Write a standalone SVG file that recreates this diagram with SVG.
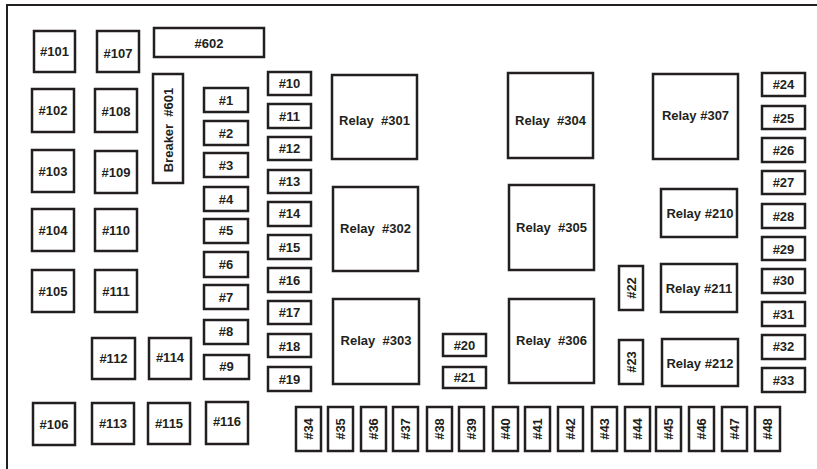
<svg xmlns="http://www.w3.org/2000/svg" width="817" height="469" viewBox="0 0 817 469">
<style>
.b{fill:#fff;stroke:#231f20;stroke-width:2.5}
.t{font-family:"Liberation Sans",Arial,sans-serif;font-weight:bold;font-size:13px;text-anchor:middle;fill:#231f20;white-space:pre}
.frame{fill:none;stroke:#231f20;stroke-width:2}
</style>
<rect x="0" y="0" width="817" height="469" fill="#fff"/>
<path class="frame" d="M7,469 V5 H817"/>
<g id="connectors"></g>
<g id="f101"><rect class="b" x="34" y="31" width="41" height="41"/><text class="t" x="54.5" y="56">#101</text></g>
<g id="f102"><rect class="b" x="32" y="89" width="42" height="43"/><text class="t" x="53" y="115">#102</text></g>
<g id="f103"><rect class="b" x="32" y="150" width="42" height="42"/><text class="t" x="53" y="175.5">#103</text></g>
<g id="f104"><rect class="b" x="32" y="209" width="42" height="42"/><text class="t" x="53" y="234.5">#104</text></g>
<g id="f105"><rect class="b" x="32" y="270" width="42" height="42"/><text class="t" x="53" y="295.5">#105</text></g>
<g id="f106"><rect class="b" x="33" y="403" width="42" height="42"/><text class="t" x="54" y="428.5">#106</text></g>
<g id="f107"><rect class="b" x="97" y="31" width="42" height="41"/><text class="t" x="118" y="57.5">#107</text></g>
<g id="f108"><rect class="b" x="95" y="89" width="42" height="43"/><text class="t" x="116" y="116">#108</text></g>
<g id="f109"><rect class="b" x="95" y="151" width="42" height="42"/><text class="t" x="116" y="177">#109</text></g>
<g id="f110"><rect class="b" x="95" y="209" width="42" height="42"/><text class="t" x="116" y="235">#110</text></g>
<g id="f111"><rect class="b" x="95" y="270" width="42" height="42"/><text class="t" x="116" y="296">#111</text></g>
<g id="f112"><rect class="b" x="92" y="338" width="43" height="41"/><text class="t" x="113.5" y="363">#112</text></g>
<g id="f113"><rect class="b" x="92" y="403" width="42" height="41"/><text class="t" x="113" y="428">#113</text></g>
<g id="f114"><rect class="b" x="149" y="338" width="42" height="41"/><text class="t" x="170" y="362">#114</text></g>
<g id="f115"><rect class="b" x="148" y="403" width="42" height="41"/><text class="t" x="169" y="428">#115</text></g>
<g id="f116"><rect class="b" x="206" y="402" width="42" height="42"/><text class="t" x="227" y="426">#116</text></g>
<g id="f602"><rect class="b" x="154" y="28" width="110" height="29"/><text class="t" x="209" y="47.5">#602</text></g>
<g id="f601"><rect class="b" x="153" y="74" width="30" height="109"/><text class="t" transform="translate(172.5,130) rotate(-90)" x="0" y="0">Breaker  #601</text></g>
<g id="f1"><rect class="b" x="204" y="88" width="44" height="24"/><text class="t" x="226" y="104.5">#1</text></g>
<g id="f2"><rect class="b" x="204" y="121" width="44" height="24"/><text class="t" x="226" y="137.5">#2</text></g>
<g id="f3"><rect class="b" x="204" y="153" width="44" height="24"/><text class="t" x="226" y="169.5">#3</text></g>
<g id="f4"><rect class="b" x="204" y="187" width="44" height="24"/><text class="t" x="226" y="203.5">#4</text></g>
<g id="f5"><rect class="b" x="204" y="219" width="44" height="24"/><text class="t" x="226" y="235">#5</text></g>
<g id="f6"><rect class="b" x="204" y="252" width="44" height="25"/><text class="t" x="226" y="268.5">#6</text></g>
<g id="f7"><rect class="b" x="204" y="285" width="44" height="24"/><text class="t" x="226" y="301.5">#7</text></g>
<g id="f8"><rect class="b" x="204" y="320" width="44" height="24"/><text class="t" x="226" y="335.5">#8</text></g>
<g id="f9"><rect class="b" x="204" y="355" width="45" height="24"/><text class="t" x="226.5" y="371">#9</text></g>
<g id="f10"><rect class="b" x="268" y="72" width="43" height="23"/><text class="t" x="289.5" y="88">#10</text></g>
<g id="f11"><rect class="b" x="268" y="104" width="43" height="24"/><text class="t" x="289.5" y="120.5">#11</text></g>
<g id="f12"><rect class="b" x="268" y="137" width="43" height="23"/><text class="t" x="289.5" y="153">#12</text></g>
<g id="f13"><rect class="b" x="268" y="170" width="43" height="23"/><text class="t" x="289.5" y="186">#13</text></g>
<g id="f14"><rect class="b" x="268" y="202" width="43" height="24"/><text class="t" x="289.5" y="218">#14</text></g>
<g id="f15"><rect class="b" x="268" y="235" width="43" height="24"/><text class="t" x="289.5" y="251.5">#15</text></g>
<g id="f16"><rect class="b" x="268" y="268" width="43" height="24"/><text class="t" x="289.5" y="284.5">#16</text></g>
<g id="f17"><rect class="b" x="268" y="301" width="43" height="23"/><text class="t" x="289.5" y="317">#17</text></g>
<g id="f18"><rect class="b" x="268" y="334" width="43" height="23"/><text class="t" x="289.5" y="350.5">#18</text></g>
<g id="f19"><rect class="b" x="268" y="367" width="43" height="24"/><text class="t" x="289.5" y="384">#19</text></g>
<g id="f20"><rect class="b" x="443" y="334" width="43" height="22"/><text class="t" x="464.5" y="349.5">#20</text></g>
<g id="f21"><rect class="b" x="443" y="367" width="43" height="21"/><text class="t" x="464.5" y="382">#21</text></g>
<g id="f22"><rect class="b" x="619" y="266" width="24" height="44"/><text class="t" transform="translate(635.5,288) rotate(-90)" x="0" y="0">#22</text></g>
<g id="f23"><rect class="b" x="619" y="340" width="24" height="44"/><text class="t" transform="translate(635.5,362) rotate(-90)" x="0" y="0">#23</text></g>
<g id="f24"><rect class="b" x="762" y="73" width="43" height="23"/><text class="t" x="783.5" y="89">#24</text></g>
<g id="f25"><rect class="b" x="762" y="106" width="43" height="23"/><text class="t" x="783.5" y="123">#25</text></g>
<g id="f26"><rect class="b" x="762" y="138" width="43" height="24"/><text class="t" x="783.5" y="155">#26</text></g>
<g id="f27"><rect class="b" x="762" y="171" width="43" height="23"/><text class="t" x="783.5" y="187">#27</text></g>
<g id="f28"><rect class="b" x="762" y="204" width="43" height="24"/><text class="t" x="783.5" y="220.5">#28</text></g>
<g id="f29"><rect class="b" x="762" y="237" width="43" height="23"/><text class="t" x="783.5" y="253.5">#29</text></g>
<g id="f30"><rect class="b" x="762" y="269" width="43" height="24"/><text class="t" x="783.5" y="285">#30</text></g>
<g id="f31"><rect class="b" x="762" y="302" width="43" height="24"/><text class="t" x="783.5" y="318.5">#31</text></g>
<g id="f32"><rect class="b" x="762" y="335" width="43" height="24"/><text class="t" x="783.5" y="351">#32</text></g>
<g id="f33"><rect class="b" x="762" y="368" width="43" height="24"/><text class="t" x="783.5" y="385">#33</text></g>
<g id="f34"><rect class="b" x="296" y="407" width="25" height="44"/><text class="t" transform="translate(313,429) rotate(-90)" x="0" y="0">#34</text></g>
<g id="f35"><rect class="b" x="328" y="407" width="25" height="44"/><text class="t" transform="translate(345,429) rotate(-90)" x="0" y="0">#35</text></g>
<g id="f36"><rect class="b" x="361" y="407" width="25" height="44"/><text class="t" transform="translate(378,429) rotate(-90)" x="0" y="0">#36</text></g>
<g id="f37"><rect class="b" x="393" y="407" width="25" height="44"/><text class="t" transform="translate(410,429) rotate(-90)" x="0" y="0">#37</text></g>
<g id="f38"><rect class="b" x="427" y="407" width="25" height="44"/><text class="t" transform="translate(444,429) rotate(-90)" x="0" y="0">#38</text></g>
<g id="f39"><rect class="b" x="459" y="407" width="25" height="44"/><text class="t" transform="translate(476,429) rotate(-90)" x="0" y="0">#39</text></g>
<g id="f40"><rect class="b" x="493" y="407" width="25" height="44"/><text class="t" transform="translate(510,429) rotate(-90)" x="0" y="0">#40</text></g>
<g id="f41"><rect class="b" x="525" y="407" width="25" height="44"/><text class="t" transform="translate(542,429) rotate(-90)" x="0" y="0">#41</text></g>
<g id="f42"><rect class="b" x="558" y="407" width="25" height="44"/><text class="t" transform="translate(575,429) rotate(-90)" x="0" y="0">#42</text></g>
<g id="f43"><rect class="b" x="592" y="407" width="25" height="44"/><text class="t" transform="translate(609,429) rotate(-90)" x="0" y="0">#43</text></g>
<g id="f44"><rect class="b" x="625" y="407" width="25" height="44"/><text class="t" transform="translate(642,429) rotate(-90)" x="0" y="0">#44</text></g>
<g id="f45"><rect class="b" x="656" y="407" width="25" height="44"/><text class="t" transform="translate(673,429) rotate(-90)" x="0" y="0">#45</text></g>
<g id="f46"><rect class="b" x="689" y="407" width="25" height="44"/><text class="t" transform="translate(706,429) rotate(-90)" x="0" y="0">#46</text></g>
<g id="f47"><rect class="b" x="722" y="407" width="25" height="44"/><text class="t" transform="translate(739,429) rotate(-90)" x="0" y="0">#47</text></g>
<g id="f48"><rect class="b" x="755" y="407" width="25" height="44"/><text class="t" transform="translate(772,429) rotate(-90)" x="0" y="0">#48</text></g>
<g id="r301"><rect class="b" x="332" y="75" width="85" height="84"/><text class="t" x="374.5" y="124.5">Relay  #301</text></g>
<g id="r302"><rect class="b" x="333" y="187" width="85" height="84"/><text class="t" x="375.5" y="232.5">Relay  #302</text></g>
<g id="r303"><rect class="b" x="333" y="299" width="86" height="85"/><text class="t" x="376" y="344.5">Relay  #303</text></g>
<g id="r304"><rect class="b" x="508" y="73" width="85" height="85"/><text class="t" x="550.5" y="124.5">Relay  #304</text></g>
<g id="r305"><rect class="b" x="509" y="185" width="85" height="85"/><text class="t" x="551.5" y="232">Relay  #305</text></g>
<g id="r306"><rect class="b" x="509" y="299" width="85" height="84"/><text class="t" x="551.5" y="345">Relay  #306</text></g>
<g id="r307"><rect class="b" x="653" y="74" width="85" height="85"/><text class="t" x="695.5" y="119.5">Relay #307</text></g>
<g id="r210"><rect class="b" x="661" y="189" width="76" height="48"/><text class="t" x="700" y="218">Relay #210</text></g>
<g id="r211"><rect class="b" x="661" y="264" width="76" height="48"/><text class="t" x="699" y="293">Relay #211</text></g>
<g id="r212"><rect class="b" x="662" y="339" width="76" height="47"/><text class="t" x="700" y="368">Relay #212</text></g>
</svg>
